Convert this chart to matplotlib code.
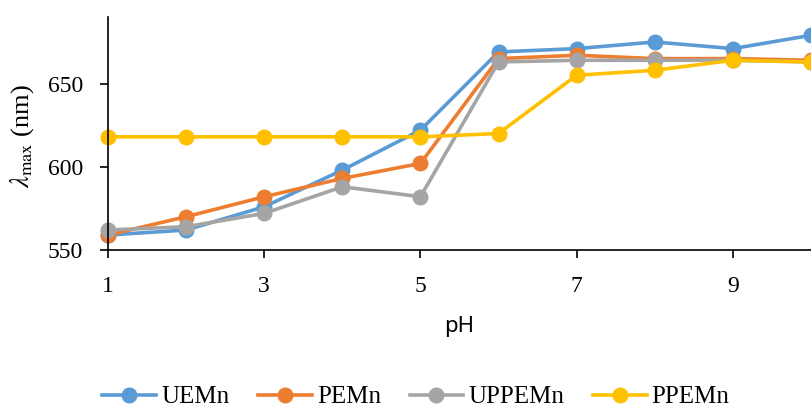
import matplotlib
matplotlib.use("Agg")
import matplotlib.pyplot as plt

plt.rcParams["mathtext.fontset"] = "stix"

ph = [1, 2, 3, 4, 5, 6, 7, 8, 9, 10]
uemn = [559, 562, 576, 598, 622, 669, 671, 675, 671, 679]
pemn = [559, 570, 582, 593, 602, 665, 667, 665, 665, 664]
uppemn = [562, 564, 572, 588, 582, 663, 664, 664, 664, 663]
ppemn = [618, 618, 618, 618, 618, 620, 655, 658, 664, 663]

series = [("UEMn", uemn, "#5B9BD5"), ("PEMn", pemn, "#ED7D31"),
          ("UPPEMn", uppemn, "#A5A5A5"), ("PPEMn", ppemn, "#FFC000")]

serif = ["Liberation Serif", "DejaVu Serif"]

fig = plt.figure(figsize=(8.11, 4.08), dpi=100)
ax = fig.add_axes([108 / 811, 1 - 250 / 408, 703 / 811, 233 / 408])

for name, vals, col in series:
    ax.plot(ph, vals, color=col, lw=2.6, marker="o", ms=10.5, label=name, clip_on=False)

ax.set_xlim(1, 10)
ax.set_ylim(550, 690)
ax.set_xticks([1, 3, 5, 7, 9])
ax.set_yticks([550, 600, 650])
for s in ["top", "right"]:
    ax.spines[s].set_visible(False)
ax.spines["left"].set_linewidth(1.2)
ax.spines["bottom"].set_linewidth(1.2)
ax.tick_params(direction="out", length=6, width=1.2, labelsize=17)
ax.tick_params(axis="x", pad=13)
ax.tick_params(axis="y", pad=12)
for lab in ax.get_xticklabels() + ax.get_yticklabels():
    lab.set_family(serif)

ax.set_ylabel(r"$\lambda_{\mathrm{max}}$ (nm)", fontsize=19, family=serif)
ax.yaxis.set_label_coords(-0.102, 0.49)
ax.set_xlabel("pH", fontsize=16, family="Noto Sans")
ax.xaxis.set_label_coords(0.5, -0.285)

leg = fig.legend(loc="center", bbox_to_anchor=(416 / 811, 1 - 397 / 408), ncol=4,
                 frameon=False, prop={"family": serif, "size": 18},
                 handlelength=2.15, columnspacing=1.15, handletextpad=0.2)

fig.savefig("out.png", dpi=100)
